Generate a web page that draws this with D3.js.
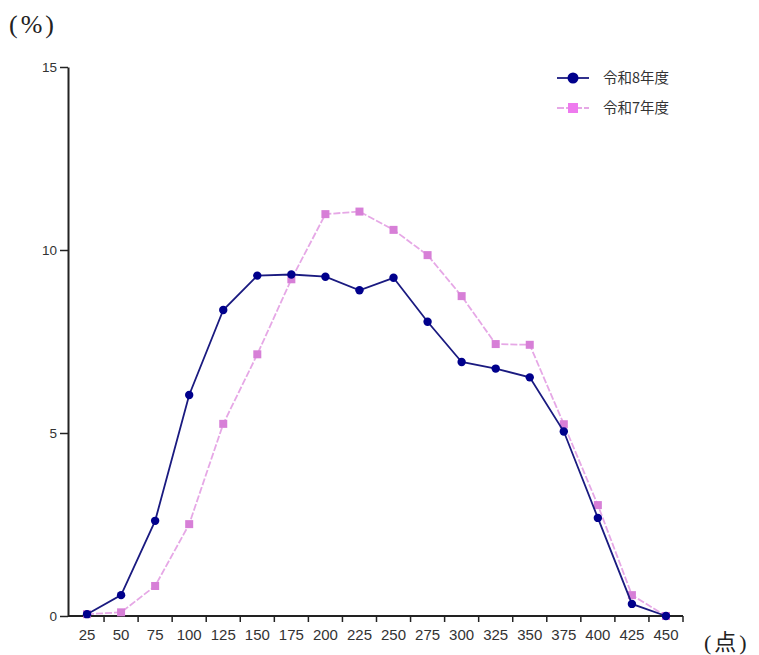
<!DOCTYPE html>
<html><head><meta charset="utf-8">
<script src="https://cdn.jsdelivr.net/npm/d3@7"></script>
<style>body{margin:0;background:#fff;} svg{display:block;}</style>
</head><body>
<script>
const categories = ["25","50","75","100","125","150","175","200","225","250","275","300","325","350","375","400","425","450"];
const seriesR8 = [0.05,0.57,2.6,6.04,8.36,9.3,9.33,9.27,8.9,9.24,8.04,6.94,6.76,6.52,5.04,2.68,0.33,0];
const seriesR7 = [0.05,0.1,0.82,2.51,5.25,7.15,9.2,10.98,11.05,10.55,9.86,8.74,7.43,7.41,5.24,3.03,0.57,0];
const seriesNames = ["令和8年度","令和7年度"];
const yTicks = [0,5,10,15];

const W=759,H=655;
const svg=d3.select("body").append("svg").attr("width",W).attr("height",H);
const x=d3.scaleBand().domain(categories).range([70,683]).padding(0);
const y=d3.scaleLinear().domain([0,15]).range([616,67]);
const xc=d=>x(d)+x.bandwidth()/2;

// axes
const xAxis=svg.append("g").attr("transform","translate(0,616)")
  .call(d3.axisBottom(x).tickSize(0).tickPadding(13));
xAxis.select(".domain").attr("d","M68,0H683").attr("stroke","#222").attr("stroke-width",2);
xAxis.selectAll("text").attr("font-family","Liberation Sans, Arial, sans-serif").attr("font-size",15).attr("fill","#333");
// boundary ticks
xAxis.selectAll(".bt").data(categories.slice(1).concat(["end"])).enter().append("line")
  .attr("x1",(d,i)=>i<categories.length-1?x(d):683).attr("x2",(d,i)=>i<categories.length-1?x(d):683)
  .attr("y1",0).attr("y2",6).attr("stroke","#222").attr("stroke-width",1.5);

const yAxis=svg.append("g").attr("transform","translate(68,0)")
  .call(d3.axisLeft(y).tickValues(yTicks).tickSize(8).tickPadding(3).tickSizeOuter(0));
yAxis.select(".domain").attr("stroke","#222").attr("stroke-width",2);
yAxis.selectAll(".tick line").attr("stroke","#222").attr("stroke-width",1.5);
yAxis.selectAll("text").attr("font-family","Liberation Sans, Arial, sans-serif").attr("font-size",13.5).attr("fill","#333");

// lines
const line=d3.line().x((d,i)=>xc(categories[i])).y(d=>y(d));
svg.append("path").datum(seriesR7).attr("d",line).attr("fill","none")
  .attr("stroke","#e6a8e6").attr("stroke-width",1.8).attr("stroke-dasharray","7,2");
svg.append("g").selectAll("rect").data(seriesR7).enter().append("rect")
  .attr("x",(d,i)=>xc(categories[i])-4).attr("y",d=>y(d)-4).attr("width",8).attr("height",8)
  .attr("fill","#d77fd7");
svg.append("path").datum(seriesR8).attr("d",line).attr("fill","none")
  .attr("stroke","#1a1a80").attr("stroke-width",1.8);
svg.append("g").selectAll("circle").data(seriesR8).enter().append("circle")
  .attr("cx",(d,i)=>xc(categories[i])).attr("cy",d=>y(d)).attr("r",4.2).attr("fill","#00008c");

// legend
const lg=svg.append("g");
lg.append("line").attr("x1",557).attr("x2",589).attr("y1",78).attr("y2",78).attr("stroke","#1a1a80").attr("stroke-width",1.8);
lg.append("circle").attr("cx",573).attr("cy",78).attr("r",5.5).attr("fill","#00008c");
lg.append("line").attr("x1",557).attr("x2",589).attr("y1",108).attr("y2",108).attr("stroke","#e6a8e6").attr("stroke-width",1.8).attr("stroke-dasharray","7,2");
lg.append("rect").attr("x",568).attr("y",103).attr("width",10).attr("height",10).attr("fill","#ee7aee");
lg.selectAll("text").data(seriesNames).enter().append("text")
  .attr("x",603).attr("y",(d,i)=>78+i*30).attr("dy","0.36em")
  .attr("font-family","Noto Sans CJK JP, sans-serif").attr("font-size",14.5).attr("fill","#333").text(d=>d);

// unit labels
svg.append("text").attr("x",9).attr("y",33).attr("font-family","Liberation Serif, DejaVu Serif, serif")
  .attr("font-size",26).attr("letter-spacing",3).attr("fill","#222").text("(%)");
svg.append("text").attr("x",704).attr("y",650).attr("font-family","Liberation Serif, Noto Sans CJK JP, serif")
  .attr("font-size",22).attr("letter-spacing",3).attr("fill","#222").text("(点)");
</script>
</body></html>
